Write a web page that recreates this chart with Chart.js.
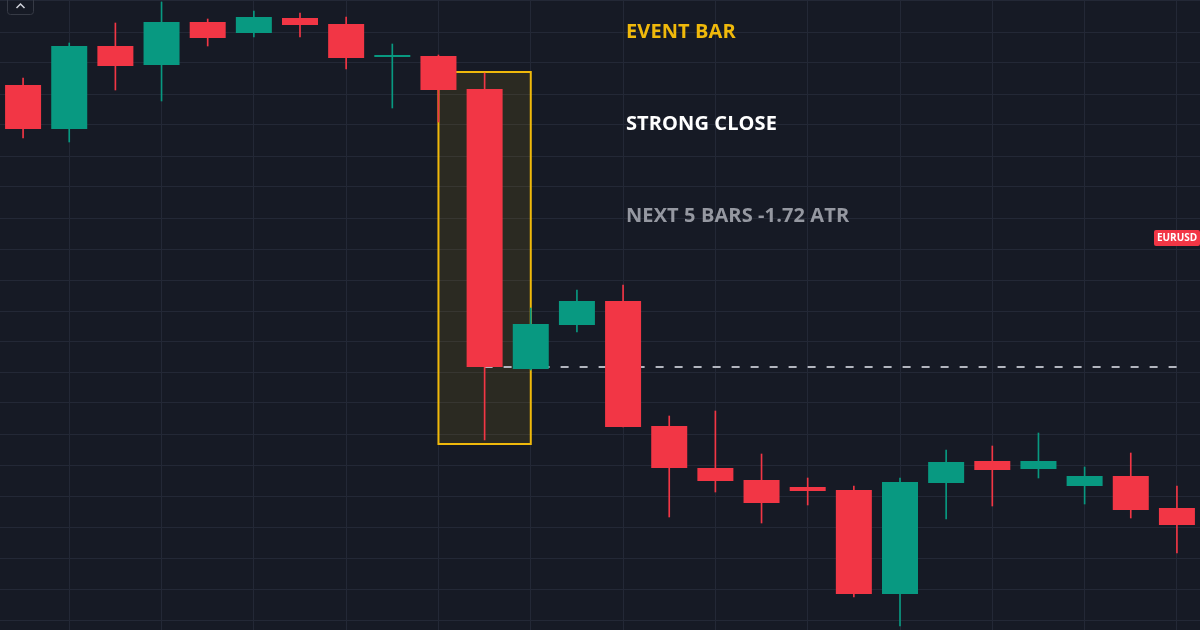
<!DOCTYPE html>
<html>
<head>
<meta charset="utf-8">
<script src="https://cdn.jsdelivr.net/npm/chart.js@4.4.1/dist/chart.umd.min.js"></script>
<style>
  html, body { margin: 0; padding: 0; background: #161a25; }
  #wrap { width: 1200px; height: 630px; position: relative; }
</style>
</head>
<body>
<div id="wrap"><canvas id="chart"></canvas></div>
<script>
// candles, price in points
const bars = ['1', '2', '3', '4', '5', '6', '7', '8', '9', '10', '11', '12', '13',
  '14', '15', '16', '17', '18', '19', '20', '21', '22', '23', '24', '25', '26'];
const opens  = [535, 491, 574, 555, 598, 587, 602, 596, 563, 564, 531, 251, 295,
  319, 194, 152, 140, 133, 130, 26, 137, 159, 151, 134, 144, 112];
const highs  = [542, 577, 597, 618, 601, 609, 607, 603, 576, 565, 547, 312, 330,
  335, 204, 209, 166, 142, 134, 142, 170, 174, 187, 153, 167, 134];
const lows   = [482, 478, 530, 519, 574, 583, 583, 551, 512, 498, 180, 250, 288,
  193, 103, 128, 97, 115, 23, -6, 101, 114, 142, 116, 102, 67];
const closes = [491, 574, 554, 598, 582, 603, 595, 562, 564, 530, 253, 296, 319,
  193, 152, 139, 117, 129, 26, 138, 158, 150, 159, 144, 110, 95];

const gridLevels = [0, 31, 62, 93, 124, 155, 186, 217, 248, 279, 309, 340, 371,
  402, 433, 464, 495, 526, 557, 588, 619];

const eventIndex = 10;
const eventBox = { from: 9, to: 11, top: 548, bottom: 176 };
const closeLevel = closes[eventIndex];

const UP = '#089981';
const DOWN = '#f23645';
const candleColors = opens.map((o, i) => closes[i] >= o ? UP : DOWN);

const levelLine = bars.map((b, i) => (i === eventIndex || i === bars.length - 1) ? closeLevel : null);

const overlay = {
  id: 'overlay',
  beforeDatasetsDraw(chart) {
    const { ctx, scales: { x, y } } = chart;
    const l = x.getPixelForValue(eventBox.from);
    const r = x.getPixelForValue(eventBox.to);
    const t = y.getPixelForValue(eventBox.top);
    const b = y.getPixelForValue(eventBox.bottom);
    ctx.save();
    ctx.fillStyle = 'rgba(240, 185, 11, 0.1)';
    ctx.fillRect(l, t, r - l, b - t);
    ctx.strokeStyle = '#f0b90b';
    ctx.lineWidth = 2;
    ctx.strokeRect(l, t, r - l, b - t);
    ctx.restore();
  },
  afterDraw(chart) {
    const { ctx } = chart;
    ctx.save();
    ctx.textBaseline = 'middle';
    ctx.textAlign = 'left';
    ctx.font = 'bold 20px "Open Sans", "Noto Sans", sans-serif';
    ctx.letterSpacing = '0.1px';
    ctx.fillStyle = '#f0b90b';
    ctx.fillText('EVENT BAR', 626, 32);
    ctx.fillStyle = '#ffffff';
    ctx.fillText('STRONG CLOSE', 626, 124);
    ctx.fillStyle = '#9598a1';
    ctx.fillText('NEXT 5 BARS -1.72 ATR', 626, 216);
    ctx.letterSpacing = '0px';

    // symbol tag
    ctx.fillStyle = DOWN;
    ctx.beginPath();
    ctx.roundRect(1154, 230, 46, 16, 2);
    ctx.fill();
    ctx.fillStyle = '#ffffff';
    ctx.font = 'bold 10px "Open Sans", "Noto Sans", sans-serif';
    ctx.textAlign = 'center';
    ctx.fillText('EURUSD', 1177, 238.5);

    // collapse button
    ctx.strokeStyle = '#363a45';
    ctx.lineWidth = 1;
    ctx.beginPath();
    ctx.roundRect(7.5, -4.5, 26, 19, 3);
    ctx.stroke();
    ctx.strokeStyle = '#d1d4dc';
    ctx.lineWidth = 1.5;
    ctx.beginPath();
    ctx.moveTo(16.5, 8);
    ctx.lineTo(20.5, 4);
    ctx.lineTo(24.5, 8);
    ctx.stroke();
    ctx.restore();
  }
};

new Chart(document.getElementById('chart'), {
  type: 'bar',
  data: {
    labels: bars,
    datasets: [
      {
        label: 'Body',
        data: opens.map((o, i) => [o, closes[i]]),
        backgroundColor: candleColors,
        borderWidth: 0,
        borderSkipped: false,
        grouped: false,
        barPercentage: 0.78,
        categoryPercentage: 1,
        minBarLength: 2,
        order: 1
      },
      {
        label: 'Wick',
        data: lows.map((lo, i) => [lo, highs[i]]),
        backgroundColor: candleColors,
        borderWidth: 0,
        grouped: false,
        barThickness: 1,
        order: 2
      },
      {
        type: 'line',
        label: 'Close level',
        data: levelLine,
        spanGaps: true,
        borderColor: '#b2b5be',
        borderWidth: 2,
        borderDash: [8, 11],
        pointRadius: 0,
        order: 3
      }
    ]
  },
  options: {
    responsive: true,
    maintainAspectRatio: false,
    animation: false,
    layout: { padding: 0 },
    plugins: {
      legend: { display: false },
      tooltip: { enabled: false }
    },
    scales: {
      x: {
        offset: true,
        grid: {
          offset: false,
          drawTicks: false,
          color: ctx => ctx.index % 2 === 1 ? '#232836' : 'rgba(0,0,0,0)'
        },
        border: { display: false },
        ticks: { display: false }
      },
      y: {
        min: -10,
        max: 620,
        afterBuildTicks: scale => { scale.ticks = gridLevels.map(value => ({ value })); },
        grid: { drawTicks: false, color: '#232836' },
        border: { display: false },
        ticks: { display: false }
      }
    }
  },
  plugins: [overlay]
});
</script>
</body>
</html>
